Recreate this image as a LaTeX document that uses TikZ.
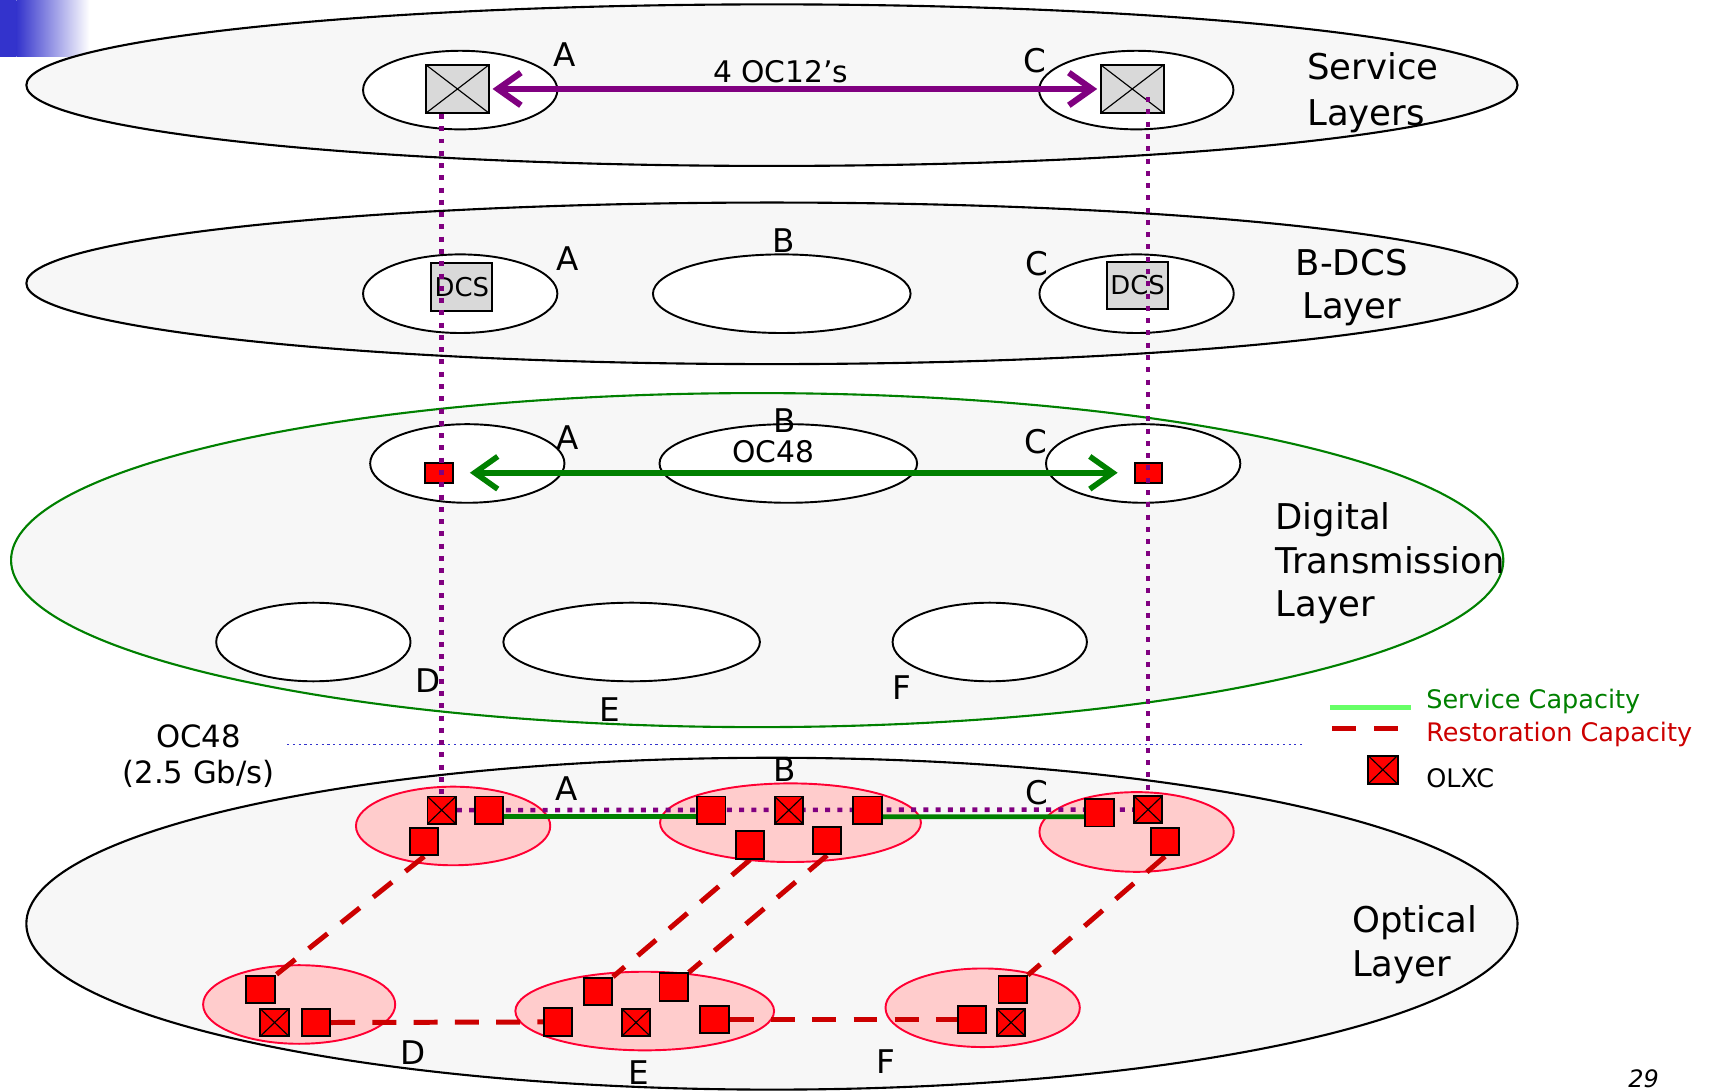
\documentclass[tikz,border=0pt]{standalone}
\usepackage{fontspec}
\setmainfont{DejaVu Sans}
\usetikzlibrary{shapes.geometric,arrows.meta,calc}
\definecolor{layerfill}{HTML}{F7F7F7}
\definecolor{boxgray}{HTML}{D9D9D9}
\definecolor{purp}{HTML}{800080}
\definecolor{dgreen}{HTML}{008000}
\definecolor{lgreen}{HTML}{66FF66}
\definecolor{rred}{HTML}{CC0000}
\definecolor{pinkfill}{HTML}{FFCCCC}
\definecolor{pinkline}{HTML}{FF0033}
\definecolor{dotblue}{HTML}{3333CC}
\definecolor{slideblue}{HTML}{3333CC}
\pgfdeclarelayer{bg}
\pgfdeclarelayer{mid}
\pgfdeclarelayer{top}
\pgfsetlayers{bg,mid,main,top}
\tikzset{barb/.tip={Straight Barb[length=12pt,width=17pt]}}
\begin{document}
\begin{tikzpicture}[x=0.02cm,y=-0.02cm,
  layer/.style={ellipse, draw=black, line width=1.1pt, fill=layerfill, inner sep=0},
  site/.style={ellipse, draw=black, line width=1pt, fill=white, inner sep=0, minimum width=3.56cm, minimum height=1.44cm},
  widesite/.style={site, minimum width=4.72cm},
  psite/.style={ellipse, draw=pinkline, line width=1pt, fill=pinkfill, inner sep=0, minimum width=3.56cm, minimum height=1.44cm},
  wpsite/.style={psite, minimum width=4.76cm},
  sq/.style={rectangle, draw=black, line width=1pt, fill=red, inner sep=0, minimum width=0.52cm, minimum height=0.5cm},
  xsq/.style={sq, path picture={\draw[line width=0.6pt] (path picture bounding box.north west) -- (path picture bounding box.south east) (path picture bounding box.south west) -- (path picture bounding box.north east);}},
  gxbox/.style={xsq, fill=boxgray, minimum width=1.15cm, minimum height=0.88cm},
  rsq/.style={sq, minimum width=0.5cm, minimum height=0.36cm},
  dcsbox/.style={rectangle, draw=black, line width=1pt, fill=boxgray, inner sep=0, minimum width=1.12cm, minimum height=0.87cm, font=\fontsize{13.5}{15}\selectfont},
  lbl/.style={font=\fontsize{17}{20}\selectfont, inner sep=0, anchor=base},
  midtxt/.style={font=\fontsize{15.5}{18}\selectfont, inner sep=0, anchor=base},
  laytxt/.style={font=\fontsize{18.5}{22}\selectfont, inner sep=0, anchor=base west},
  legtxt/.style={font=\fontsize{13.3}{16}\selectfont, inner sep=0, anchor=base west},
  purparrow/.style={draw=purp, line width=3.2pt, barb-barb},
  grnarrow/.style={draw=dgreen, line width=2.9pt, barb-barb},
  purpdot/.style={draw=purp, line width=2.4pt, dash pattern=on 2.6pt off 3.8pt},
  resto/.style={draw=rred, line width=2.6pt, dash pattern=on 12.5pt off 9pt},
  servline/.style={draw=dgreen, line width=2.5pt}
]
\useasboundingbox (0,0) rectangle (1568,999);

\begin{pgfonlayer}{bg}
  \fill[slideblue] (0,0) rectangle (15,52);
  \shade[left color=slideblue,right color=white] (15,0) rectangle (82,52);
  % layers
  \node[layer, minimum width=27.32cm, minimum height=2.96cm] (Lserv) at (707,78) {};
  \node[layer, minimum width=27.32cm, minimum height=2.96cm] (Ldcs) at (707,259.5) {};
  \node[layer, draw=dgreen, minimum width=27.34cm, minimum height=6.12cm] (Ldig) at (693.5,513) {};
  \node[layer, minimum width=27.32cm, minimum height=6.08cm] (Lopt) at (707,846) {};
  % service sites
  \node[site] (SA) at (421.5,82.5) {};
  \node[site] (SC) at (1040.7,82.5) {};
  % dcs sites
  \node[site] (DA) at (421.5,269) {};
  \node[widesite] (DB) at (716,269) {};
  \node[site] (DC) at (1041,269) {};
  % digital sites
  \node[site] (TA) at (428,424.5) {};
  \node[widesite] (TB) at (722,424.5) {};
  \node[site] (TC) at (1047,424.5) {};
  \node[site] (TD) at (287,588) {};
  \node[widesite, minimum width=4.7cm] (TE) at (578.5,588) {};
  \node[site] (TF) at (906.5,588) {};
  % optical sites
  \node[psite] (OA) at (415,756.5) {};
  \node[wpsite, minimum width=4.78cm] (OB) at (724,753.5) {};
  \node[psite, minimum height=1.46cm] (OC) at (1041,762) {};
  \node[psite, minimum width=3.52cm] (OD) at (274,920) {};
  \node[wpsite, minimum width=4.74cm] (OE) at (590.5,926) {};
  \node[psite] (OF) at (900,923) {};
\end{pgfonlayer}

% ---------- Service layer ----------
\node[gxbox] (SXA) at (419,81.5) {};
\node[gxbox] (SXC) at (1037,81.5) {};
\draw[purparrow, shorten <=0.05cm, shorten >=0.05cm] (SXA) -- (SXC);
\node[midtxt] (t4oc) at (715,76) {4 OC12’s};
\node[lbl] (lSA) at (517,61) {A};
\node[lbl] (lSC) at (948,66) {C};
\node[laytxt] (tserv1) at (1197,73) {Service};
\node[laytxt] (tserv2) at (1197,115) {Layers};

% ---------- B-DCS layer ----------
\node[dcsbox] (DXA) at (423,263) {DCS};
\node[dcsbox] (DXC) at (1042,261.5) {DCS};
\node[lbl] (lDA) at (519.5,248) {A};
\node[lbl] (lDB) at (717.5,231) {B};
\node[lbl] (lDC) at (950,252) {C};
\node[laytxt, anchor=base] (tdcs1) at (1238,252) {B-DCS};
\node[laytxt, anchor=base] (tdcs2) at (1238,292) {Layer};

% ---------- Digital transmission layer ----------
\node[rsq] (TRA) at (402,433) {};
\node[rsq] (TRC) at (1052,433) {};
\draw[grnarrow, shorten <=0.3cm, shorten >=0.3cm] (TRA) -- (TRC);
\node[lbl] (lTA) at (519.5,412) {A};
\node[lbl] (lTB) at (718.5,396) {B};
\node[midtxt] (toc48) at (708,424) {OC48};
\node[lbl] (lTC) at (949,415) {C};
\node[lbl] (lTD) at (392.5,634) {D};
\node[lbl] (lTE) at (558.5,661) {E};
\node[lbl] (lTF) at (826,641) {F};
\node[laytxt] (tdig1) at (1168,485) {Digital};
\node[laytxt] (tdig2) at (1168,525) {Transmission};
\node[laytxt] (tdig3) at (1168,565) {Layer};

% ---------- OC48 boundary ----------
\node[midtxt, font=\fontsize{16}{18}\selectfont] (toc48a) at (182,685) {OC48};
\node[midtxt, font=\fontsize{16}{18}\selectfont] (toc48b) at (182,718) {(2.5 Gb/s)};
\coordinate (bl1) at (263,682);
\coordinate (bl2) at (1193,682);
\draw[dotblue, line width=0.9pt, dash pattern=on 1.1pt off 1.9pt] (bl1) -- (bl2);

% ---------- Optical layer ----------
\node[xsq] (OXA) at (404.5,742) {};
\node[sq] (A2) at (448,742) {};
\node[sq] (A3) at (388.5,771) {};
\node[sq] (B1) at (651.5,742) {};
\node[xsq] (OXB) at (722.5,742) {};
\node[sq] (B3) at (794.5,742) {};
\node[sq] (B4) at (687,774) {};
\node[sq] (B5) at (757.5,770) {};
\node[sq] (C1) at (1007,744.5) {};
\node[xsq] (OXC) at (1051.5,741.5) {};
\node[sq] (C3) at (1067,771) {};
\node[sq] (D1) at (238.5,906.5) {};
\node[xsq] (OXD) at (251.5,936.5) {};
\node[sq] (D3) at (289.5,936.5) {};
\node[sq] (E1) at (511,936) {};
\node[sq] (E2) at (547.5,908) {};
\node[xsq] (OXE) at (582.5,936.5) {};
\node[sq] (E4) at (617,904) {};
\node[sq] (E5) at (654.5,933.5) {};
\node[sq] (F1) at (890,933.5) {};
\node[xsq] (OXF) at (926,936.5) {};
\node[sq] (F3) at (927.5,906.5) {};

\node[lbl] (lOA) at (519,733) {A};
\node[lbl] (lOB) at (718.5,716) {B};
\node[lbl] (lOC) at (949.5,737) {C};
\node[lbl] (lOD) at (378,975) {D};
\node[lbl] (lOE) at (585,993.5) {E};
\node[lbl] (lOF) at (811,983) {F};
\node[laytxt] (topt1) at (1238,854) {Optical};
\node[laytxt] (topt2) at (1238,894) {Layer};

\begin{pgfonlayer}{mid}
  \draw[servline] ($(A2.east)+(0,6)$) -- ($(B1.west)+(0,6)$);
  \draw[servline] ($(B3.east)+(0,6)$) -- ($(C1.west)+(0,3.5)$);
  \draw[purpdot] (OXA) -- (OXC);
  \draw[resto] (A3.south) -- (D1.north east);
  \draw[resto] (B4.south) -- (E2.north east);
  \draw[resto] (B5.south) -- (E4.north east);
  \draw[resto] (C3.south) -- (F3.north east);
  \draw[resto] (D3.east) -- (E1.west);
  \draw[resto] (E5.east) -- (F1.west);
\end{pgfonlayer}

\begin{pgfonlayer}{top}
  \draw[purpdot] (SXA.south -| OXA.north) -- (OXA.north);
  \draw[purpdot] ($(SXC.center -| OXC.north)+(0,7.5)$) -- (OXC.north);
\end{pgfonlayer}

% ---------- Legend ----------
\coordinate (lg1) at (1218,648);
\coordinate (lg2) at (1292,648);
\draw[lgreen, line width=3.1pt] (lg1) -- (lg2);
\coordinate (lr1) at (1220,667);
\coordinate (lr2) at (1281,667);
\draw[rred, line width=2.8pt, dash pattern=on 12.5pt off 9.5pt] (lr1) -- (lr2);
\node[xsq, minimum width=0.54cm, minimum height=0.52cm] (lgx) at (1266.5,705) {};
\node[legtxt, text=dgreen] (tlg1) at (1306,649) {Service Capacity};
\node[legtxt, text=rred] (tlg2) at (1306,679) {Restoration Capacity};
\node[legtxt] (tlg3) at (1306,721) {OLXC};

\node[font=\fontsize{12.5}{14}\selectfont\itshape, anchor=base west, inner sep=0] (pgno) at (1491,996) {29};
\end{tikzpicture}
\end{document}
